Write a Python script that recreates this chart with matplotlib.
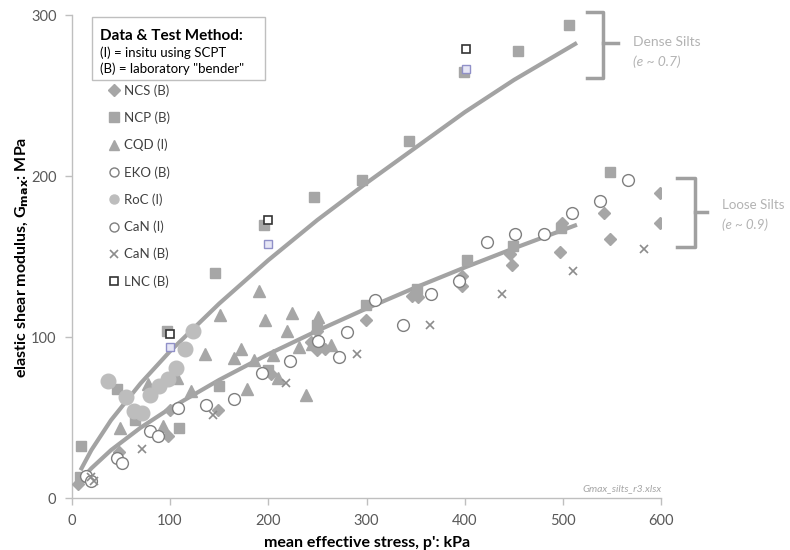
import matplotlib
matplotlib.use("Agg")
import matplotlib.pyplot as plt
from matplotlib.lines import Line2D
from matplotlib.patches import Rectangle

plt.rcParams['font.family'] = ['Lato', 'DejaVu Sans']

# ---------------- data ----------------
ncs_x = [6, 48, 100, 98, 149, 203, 250, 250, 258, 243, 299, 346, 352, 397, 397, 446, 448, 497, 499, 542, 548, 598, 598]
ncs_y = [9, 29, 55, 39, 55, 77, 104, 92, 93, 97, 111, 126, 125, 132, 138, 152, 145, 153, 171, 177, 161, 190, 171]

ncp_x = [9.5, 8, 46, 64, 97, 109, 150, 146, 196, 200, 246, 250, 295, 299, 343, 351, 399, 402, 449, 454, 498, 506, 548]
ncp_y = [32.5, 13, 68, 49, 104, 44, 70, 140, 170, 80, 187, 108, 198, 120, 222, 130, 265, 148, 157, 278, 168, 294, 203]

cqd_x = [49, 93, 78, 107, 121, 136, 151, 165, 172, 178, 185, 191, 197, 205, 210, 219, 224, 231, 238, 244, 251, 264]
cqd_y = [44, 45, 71, 75, 67, 90, 114, 87, 93, 68, 86, 129, 111, 89, 75, 104, 115, 94, 64, 96, 113, 95]

eko_x = [15, 46, 80, 108.5, 165, 222, 272, 337, 394, 451, 509, 566]
eko_y = [14, 25, 42, 56, 62, 85.5, 88, 108, 135, 164, 177, 198]

roc_x = [37, 55, 63, 72, 80, 89, 98, 106, 115, 123]
roc_y = [73, 63, 54, 53, 64, 70, 74, 81, 93, 104]

cani_x = [20, 51, 88, 137, 194, 251, 280, 308.5, 365.5, 422, 480, 537]
cani_y = [11, 22, 39, 58, 78, 98, 103.5, 123, 127, 159, 164, 185]

canb_x = [20, 23, 72, 144, 218, 290, 364.5, 438, 510, 582]
canb_y = [13, 11, 31, 52, 71.5, 90, 108, 127, 141, 155]

lnc_x = [100, 200, 401]
lnc_y = [102, 173, 279]
lnc2_x = [100, 200, 401]
lnc2_y = [94, 158, 267]

# trend lines
dense_x = [9, 20, 40, 70, 100, 150, 200, 250, 300, 350, 400, 450, 514]
dense_y = [17.5, 30, 48.6, 71.4, 91.4, 121, 148, 173, 196, 218, 240, 260, 283]
loose_x = [13.5, 20, 40, 70, 100, 150, 200, 250, 300, 350, 400, 450, 514]
loose_y = [14.3, 18.7, 30, 43.9, 55.9, 73.6, 89.6, 104.2, 118, 131.1, 143.5, 155.4, 170]

x_ticks = [0, 100, 200, 300, 400, 500, 600]
y_ticks = [0, 100, 200, 300]

# ---------------- figure ----------------
W, H = 790, 550
fig = plt.figure(figsize=(W / 100, H / 100), dpi=100)
ax = fig.add_axes([71.7 / W, 1 - 498.4 / H, (661.5 - 71.7) / W, (498.4 - 15.5) / H])

GREY = '#a6a6a6'
LINEC = '#a3a3a3'

ax.plot(dense_x, dense_y, color=LINEC, lw=3.0, solid_capstyle='butt', zorder=2)
ax.plot(loose_x, loose_y, color=LINEC, lw=3.0, solid_capstyle='butt', zorder=2)

h_ncs, = ax.plot(ncs_x, ncs_y, 'D', ms=6, color=GREY, mec=GREY, ls='none', label='NCS (B)', zorder=3)
h_ncp, = ax.plot(ncp_x, ncp_y, 's', ms=7, color=GREY, mec=GREY, ls='none', label='NCP (B)', zorder=3)
h_cqd, = ax.plot(cqd_x, cqd_y, '^', ms=8, color=GREY, mec=GREY, ls='none', label='CQD (I)', zorder=3)
h_eko, = ax.plot(eko_x, eko_y, 'o', ms=8.5, mfc='white', mec='#7f7f7f', mew=1.0, ls='none', label='EKO (B)', zorder=4)
h_roc, = ax.plot(roc_x, roc_y, 'o', ms=10.5, color='#bdbdbd', mec='#bdbdbd', ls='none', label='RoC (I)', zorder=3)
h_cani, = ax.plot(cani_x, cani_y, 'o', ms=8.5, mfc='white', mec='#7f7f7f', mew=1.0, ls='none', label='CaN (I)', zorder=4)
h_canb, = ax.plot(canb_x, canb_y, 'x', ms=6, color='#8c8c8c', mew=1.2, ls='none', label='CaN (B)', zorder=4)
h_lnc, = ax.plot(lnc_x, lnc_y, 's', ms=6, mfc='white', mec='#333333', mew=1.2, ls='none', label='LNC (B)', zorder=5)
ax.plot(lnc2_x, lnc2_y, 's', ms=6, mfc='#e6e6f5', mec='#9090c8', mew=1.0, ls='none', zorder=5)

ax.set_xlim(0, 600)
ax.set_ylim(0, 300)
ax.set_xticks(x_ticks)
ax.set_yticks(y_ticks)
for s in ['top', 'right']:
    ax.spines[s].set_visible(False)
for s in ['left', 'bottom']:
    ax.spines[s].set_color('#bfbfbf')
    ax.spines[s].set_linewidth(1.0)
ax.tick_params(axis='both', direction='out', length=5, width=1, color='#bfbfbf',
               labelcolor='#595959', labelsize=10.5, pad=6)

ax.set_xlabel("mean effective stress, p': kPa", fontsize=11.5, fontweight='bold', labelpad=6)
ax.set_ylabel("elastic shear modulus, G$_{\\mathbf{max}}$: MPa", fontsize=11.5, fontweight='bold', labelpad=1)
ax.yaxis.set_label_coords(-(71.7 - 31) / (661.5 - 71.7), 0.5)

ax.text(600, 3, 'Gmax_silts_r3.xlsx', fontsize=7.5, style='italic', color='#a6a6a6',
        ha='right', va='bottom')

# legend
handles = [h_ncs, h_ncp, h_cqd, h_eko, h_roc, h_cani, h_canb, h_lnc]
leg_handles = []
for h in handles:
    lh = Line2D([], [], marker=h.get_marker(), ls='none', color=h.get_color(),
                mfc=h.get_markerfacecolor(), mec=h.get_markeredgecolor(), mew=h.get_markeredgewidth(),
                ms=min(h.get_markersize(), 6.5) if h is not h_roc else 6.5, label=h.get_label())
    leg_handles.append(lh)
leg = ax.legend(handles=leg_handles, loc='upper left', bbox_to_anchor=(109 / W, 1 - 84 / H),
                bbox_transform=fig.transFigure, frameon=False, fontsize=9.5, handlelength=0.8,
                handletextpad=0.3, labelspacing=1.12, borderaxespad=0, borderpad=0)
for t in leg.get_texts():
    t.set_color('#404040')

# method box
fig.patches.append(Rectangle((91.7 / W, 1 - 80 / H), (265 - 91.7) / W, (80 - 17.3) / H,
                             transform=fig.transFigure, facecolor='white', edgecolor='#bfbfbf', lw=1, zorder=5))
fig.text(100 / W, 1 - 36 / H, 'Data & Test Method:', fontsize=11, fontweight='bold', va='center', zorder=6)
fig.text(100 / W, 1 - 53 / H, '(I) = insitu using SCPT', fontsize=9.5, va='center', zorder=6)
fig.text(100 / W, 1 - 69 / H, '(B) = laboratory "bender"', fontsize=9.5, va='center', zorder=6)

# brackets and annotations
BRC = '#a0a0a0'
ax.plot([524, 540.8, 540.8, 524], [302.3, 302.3, 260.9, 260.9], color=BRC, lw=2.5, clip_on=False,
        solid_joinstyle='round')
ax.plot([540.8, 556], [282.7, 282.7], color=BRC, lw=2.5, clip_on=False)
ax.text(571, 283.7, 'Dense Silts', fontsize=10, color='#b3b3b3', va='center', clip_on=False)
ax.text(571, 271.2, '(e ~ 0.7)', fontsize=10, color='#b3b3b3', style='italic', va='center', clip_on=False)

ax.plot([615.5, 634, 634, 615.5], [198.8, 198.8, 156.3, 156.3], color=BRC, lw=2.5, clip_on=False,
        solid_joinstyle='round')
ax.plot([634, 646], [177.9, 177.9], color=BRC, lw=2.5, clip_on=False)
ax.text(662, 182.2, 'Loose Silts', fontsize=9.6, color='#b3b3b3', va='center', clip_on=False)
ax.text(662, 169.8, '(e ~ 0.9)', fontsize=9.6, color='#b3b3b3', style='italic', va='center', clip_on=False)

fig.savefig('out.png', dpi=100)
